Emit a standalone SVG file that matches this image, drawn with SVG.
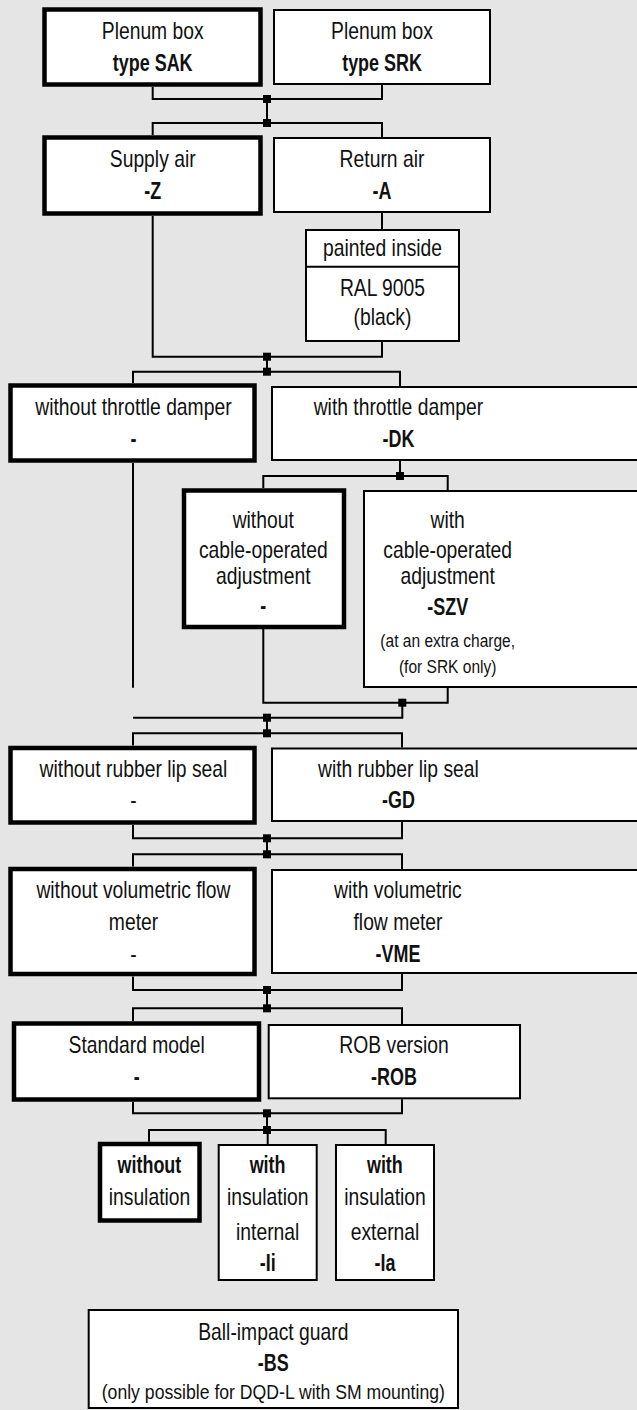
<svg xmlns="http://www.w3.org/2000/svg" width="637" height="1410" viewBox="0 0 637 1410">
<style>
.bg{fill:#e5e5e5}
.b{fill:#fff;stroke:#000;stroke-width:2}
.k{fill:#fff;stroke:#000;stroke-width:4.5}
.c{fill:none;stroke:#000;stroke-width:2}
.j{fill:#000}
text{font-family:"Liberation Sans Narrow","Liberation Sans",Arial,sans-serif;font-size:23px;text-anchor:middle;fill:#111;transform-box:fill-box;transform-origin:center;transform:scaleX(.84)}
.bd{font-weight:bold;transform:scaleX(.78)}
.s{font-size:18.5px}
.m{font-size:21px}
</style>
<defs><rect id="sq" x="-4" y="-4" width="8" height="8" class="j"/></defs>
<rect class="bg" x="0" y="0" width="637" height="1410"/>
<g id="connectors">
<path class="c" d="M152.7 87V99H382V85M267 99V123M152.7 135V123H382V137"/>
<path class="c" d="M152.7 216V356.7H382V342M382 213V229M267 356.7V371.7M133 383V371.7H400V386"/>
<path class="c" d="M133 463V687.7M400 461V476M263.3 488V476H447.7V490"/>
<path class="c" d="M263.3 629V702.7H447.7V688M402.3 702.7V717.7H133M267 717.7V733.3M133 745.5V733.3H402V747.5"/>
<path class="c" d="M133 825V838.3H402V822M267 838.3V854.3M133 866.5V854.3H402V869"/>
<path class="c" d="M133 976.5V990H402V974M267 990V1008.3M133 1021V1008.3H402V1024"/>
<path class="c" d="M133 1101.7V1113.3H402V1099.3M267 1113.3V1130M149 1141.7V1130H385.7V1144M267.7 1130V1144"/>
<use href="#sq" x="267" y="99"/><use href="#sq" x="267" y="123"/>
<use href="#sq" x="267" y="356.7"/><use href="#sq" x="267" y="371.7"/>
<use href="#sq" x="400" y="476"/>
<use href="#sq" x="402.3" y="702.7"/><use href="#sq" x="267" y="717.7"/><use href="#sq" x="267" y="733.3"/>
<use href="#sq" x="267" y="838.3"/><use href="#sq" x="267" y="854.3"/>
<use href="#sq" x="267" y="990"/><use href="#sq" x="267" y="1008.3"/>
<use href="#sq" x="267" y="1113.3"/><use href="#sq" x="267" y="1130"/>
</g>
<g id="sak"><rect class="k" x="44.5" y="9.5" width="216" height="75"/><text x="152.7" y="39">Plenum box</text><text class="bd" x="152.7" y="71">type SAK</text></g>
<g id="srk"><rect class="b" x="274" y="10" width="216" height="74"/><text x="382" y="39">Plenum box</text><text class="bd" x="382" y="71">type SRK</text></g>
<g id="supply"><rect class="k" x="44.5" y="137.5" width="216" height="76"/><text x="152.7" y="166.7">Supply air</text><text class="bd" x="152.7" y="199.3">-Z</text></g>
<g id="return"><rect class="b" x="274" y="138" width="216" height="74"/><text x="382" y="166.7">Return air</text><text class="bd" x="382" y="199.3">-A</text></g>
<g id="painted"><rect class="b" x="306" y="230" width="153" height="111"/><path class="c" d="M306 266.7H459"/><text x="382.5" y="256">painted inside</text><text x="382.5" y="295.7">RAL 9005</text><text x="382.5" y="325">(black)</text></g>
<g id="no-throttle"><rect class="k" x="10.5" y="385.5" width="244" height="75"/><text x="133.5" y="415">without throttle damper</text><text class="bd" x="133.5" y="447.3">-</text></g>
<g id="throttle"><rect class="b" x="272" y="387" width="370" height="73"/><text x="398.5" y="415">with throttle damper</text><text class="bd" x="398.5" y="447.3">-DK</text></g>
<g id="no-cable"><rect class="k" x="184" y="490.5" width="160" height="136.5"/><text x="263.3" y="528.3">without</text><text x="263.3" y="558.3">cable-operated</text><text x="263.3" y="584">adjustment</text><text class="bd" x="263.3" y="614">-</text></g>
<g id="cable"><rect class="b" x="364" y="491" width="280" height="196"/><text x="447.7" y="528.3">with</text><text x="447.7" y="558.3">cable-operated</text><text x="447.7" y="584">adjustment</text><text class="bd" x="447.7" y="615">-SZV</text><text class="s" x="447.7" y="647.3">(at an extra charge,</text><text class="s" x="447.7" y="672.7">(for SRK only)</text></g>
<g id="no-seal"><rect class="k" x="10.5" y="748" width="244" height="74.5"/><text x="133.5" y="776.7">without rubber lip seal</text><text x="133.5" y="808.3">-</text></g>
<g id="seal"><rect class="b" x="272" y="748.5" width="370" height="72.5"/><text x="398.5" y="776.7">with rubber lip seal</text><text class="bd" x="398.5" y="808.3">-GD</text></g>
<g id="no-vme"><rect class="k" x="10.5" y="869" width="244" height="105"/><text x="133.5" y="898.3">without volumetric flow</text><text x="133.5" y="930">meter</text><text x="133.5" y="961.7">-</text></g>
<g id="vme"><rect class="b" x="272" y="870" width="370" height="103"/><text x="398" y="898.3">with volumetric</text><text x="398" y="930">flow meter</text><text class="bd" x="398" y="961.7">-VME</text></g>
<g id="standard"><rect class="k" x="14" y="1023.5" width="245" height="76"/><text x="136.7" y="1053.3">Standard model</text><text class="bd" x="136.7" y="1085">-</text></g>
<g id="rob"><rect class="b" x="268.7" y="1025" width="251.3" height="73.3"/><text x="394" y="1053.3">ROB version</text><text class="bd" x="394" y="1085">-ROB</text></g>
<g id="no-ins"><rect class="k" x="100" y="1144" width="99.5" height="76.5"/><text class="bd" x="149.5" y="1173.3">without</text><text x="149.5" y="1205">insulation</text></g>
<g id="ins-int"><rect class="b" x="218.7" y="1145" width="98" height="135"/><text class="bd" x="267.7" y="1173.3">with</text><text x="267.7" y="1205">insulation</text><text x="267.7" y="1240">internal</text><text class="bd" x="267.7" y="1271">-Ii</text></g>
<g id="ins-ext"><rect class="b" x="336" y="1145" width="98" height="135"/><text class="bd" x="385" y="1173.3">with</text><text x="385" y="1205">insulation</text><text x="385" y="1240">external</text><text class="bd" x="385" y="1271">-Ia</text></g>
<g id="ball"><rect class="b" x="88.7" y="1310" width="369.3" height="98"/><text x="273.3" y="1340">Ball-impact guard</text><text class="bd" x="273.3" y="1371">-BS</text><text class="m" x="273.3" y="1399">(only possible for DQD-L with SM mounting)</text></g>
</svg>
